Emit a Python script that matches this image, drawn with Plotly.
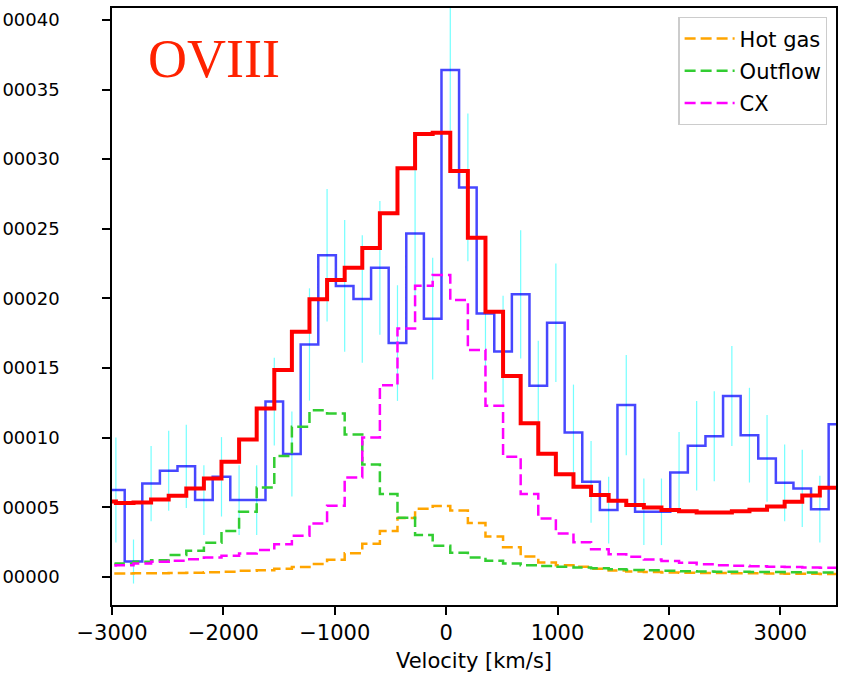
import numpy as np
import plotly.graph_objects as go

# ---- spectral grid (km/s) -------------------------------------------------
bin_lo = -3044.0      # lower edge of the first spectral bin
bin_w = 158.0         # bin width in velocity space

# ---- observed OVIII spectrum (flux in units of 1e-5) ------------------------
obs_flux = [6.25, 1.12, 6.72, 7.64, 7.95, 5.53, 7.20, 5.53, 5.53, 12.60,
            8.84, 16.70, 23.10, 20.90, 19.96, 22.20, 16.80, 24.67, 18.55, 36.40,
            27.97, 18.93, 16.20, 20.30, 13.73, 18.26, 10.39, 6.84, 4.81, 12.35,
            4.69, 4.69, 7.51, 9.43, 10.12, 13.00, 10.19, 8.52, 6.77, 6.37,
            4.88, 10.98]
obs_err = [3.77, 1.58, 2.70, 2.87, 2.99, 2.50, 2.85, 2.50, 2.50, 3.15,
           3.05, 4.03, 4.75, 4.73, 4.58, 4.80, 4.15, 5.30, 4.37, 6.00,
           5.30, 4.30, 4.00, 4.60, 3.23, 4.26, 3.43, 2.94, 2.39, 3.60,
           2.39, 2.39, 2.91, 3.22, 3.23, 3.59, 3.40, 3.11, 2.75, 2.78,
           2.39, 2.60]

# ---- model components, one value per bin (units of 1e-5) --------------------
total_model = [5.42, 5.32, 5.35, 5.58, 5.84, 6.37, 7.08, 8.28, 9.88, 12.11,
               14.86, 17.61, 19.95, 21.32, 22.20, 23.63, 26.12, 29.34, 31.80, 31.90,
               29.15, 24.36, 19.05, 14.43, 11.05, 8.85, 7.39, 6.48, 5.89, 5.48,
               5.17, 4.99, 4.81, 4.72, 4.64, 4.64, 4.72, 4.83, 5.07, 5.41,
               5.86, 6.41]
hot_gas = [0.26, 0.26, 0.27, 0.28, 0.30, 0.32, 0.35, 0.38, 0.45, 0.50,
           0.60, 0.72, 0.95, 1.25, 1.72, 2.40, 3.32, 4.25, 4.90, 5.10,
           4.78, 3.88, 2.92, 2.15, 1.48, 1.05, 0.86, 0.74, 0.60, 0.48,
           0.40, 0.36, 0.34, 0.32, 0.30, 0.29, 0.28, 0.27, 0.26, 0.25,
           0.24, 0.23]
outflow = [0.95, 0.98, 1.10, 1.22, 1.58, 1.89, 2.46, 3.32, 4.69, 6.44,
           8.69, 10.79, 11.97, 11.75, 10.23, 8.09, 5.96, 4.26, 3.02, 2.25,
           1.75, 1.41, 1.17, 0.98, 0.86, 0.80, 0.74, 0.69, 0.63, 0.57,
           0.52, 0.49, 0.46, 0.43, 0.41, 0.39, 0.38, 0.37, 0.36, 0.35,
           0.34, 0.33]
cx = [0.84, 0.86, 0.98, 1.10, 1.17, 1.29, 1.41, 1.53, 1.70, 1.94,
      2.36, 2.97, 3.85, 5.12, 7.16, 10.03, 13.78, 17.85, 20.91, 21.68,
      19.89, 16.30, 12.30, 8.64, 5.96, 4.21, 3.14, 2.50, 2.01, 1.65,
      1.46, 1.27, 1.15, 1.03, 0.93, 0.86, 0.81, 0.78, 0.75, 0.72,
      0.70, 0.67]

UNIT = 1e-5
y_ticks = [0, 5e-5, 10e-5, 15e-5, 20e-5, 25e-5, 30e-5, 35e-5, 40e-5]
y_tick_text = ["00000", "00005", "00010", "00015", "00020",
               "00025", "00030", "00035", "00040"]
x_ticks = [-3000, -2000, -1000, 0, 1000, 2000, 3000]
x_tick_text = ["\u22123000", "\u22122000", "\u22121000", "0", "1000", "2000", "3000"]

# ---- derived arrays ---------------------------------------------------------
n = len(obs_flux)
edges = bin_lo + bin_w * np.arange(n + 1)
centers = edges[:-1] + bin_w / 2

# observed histogram drawn edge-to-edge
obs_y = np.array(obs_flux) * UNIT
hist_x = edges
hist_y = np.append(obs_y, obs_y[-1])

# model curves step at the bin centres (matplotlib-style plt.step)
model_x = np.append(centers - bin_w, centers[-1])


def model_steps(vals):
    v = np.array(vals) * UNIT
    return np.append(v, v[-1])


FONT = "DejaVu Sans"
fig = go.Figure()

# error bars
fig.add_trace(go.Scatter(
    x=centers, y=obs_y, mode="markers",
    marker=dict(size=0.1, color="rgba(0,0,0,0)"),
    error_y=dict(type="data", array=np.array(obs_err) * UNIT, visible=True,
                 color="rgba(0,255,255,0.55)", thickness=1.2, width=0),
    showlegend=False, hoverinfo="skip"))

# observed spectrum
fig.add_trace(go.Scatter(
    x=hist_x, y=hist_y, mode="lines", line_shape="hv",
    line=dict(color="rgba(0,0,255,0.72)", width=2.5),
    showlegend=False, name="data"))

# model components
for vals, name, color in [(hot_gas, "Hot gas", "#FFA500"),
                          (outflow, "Outflow", "#32CD32"),
                          (cx, "CX", "#FF00FF")]:
    fig.add_trace(go.Scatter(
        x=model_x, y=model_steps(vals), mode="lines", line_shape="hv",
        line=dict(color=color, width=2.5, dash="11px,5px"), name=name,
        legendgroup=name))

# total model
fig.add_trace(go.Scatter(
    x=model_x, y=model_steps(total_model), mode="lines", line_shape="hv",
    line=dict(color="#FF0000", width=4), showlegend=False, name="total"))

fig.add_annotation(
    x=0.047, y=0.968, xref="paper", yref="paper", xanchor="left", yanchor="top",
    text="OVIII", showarrow=False,
    font=dict(family="Liberation Serif", size=54, color="#FF2200"))

axis_common = dict(showline=True, linecolor="black", linewidth=1.5, mirror=True,
                   ticks="outside", ticklen=8, tickwidth=1.5, tickcolor="black",
                   showgrid=False, zeroline=False, automargin=False)

fig.update_layout(
    width=841, height=678,
    margin=dict(l=112, r=5, t=8, b=73),
    plot_bgcolor="white", paper_bgcolor="white",
    xaxis=dict(range=[-3000, 3500], tickvals=x_ticks, ticktext=x_tick_text,
               tickfont=dict(family=FONT, size=21, color="black"),
               title=dict(text="Velocity [km/s]", font=dict(family=FONT, size=21, color="black"),
                          standoff=9),
               **axis_common),
    yaxis=dict(range=[-2.0e-5, 40.85e-5], tickvals=y_ticks, ticktext=y_tick_text,
               tickfont=dict(family=FONT, size=18, color="black"),
               ticklabelstandoff=39, **axis_common),
    legend=dict(x=0.988, y=0.985, xanchor="right", yanchor="top",
                bgcolor="white", bordercolor="#CCCCCC", borderwidth=1.3,
                font=dict(family=FONT, size=21, color="black"),
                itemwidth=50, tracegroupgap=2),
)

fig.write_html("out.html")
